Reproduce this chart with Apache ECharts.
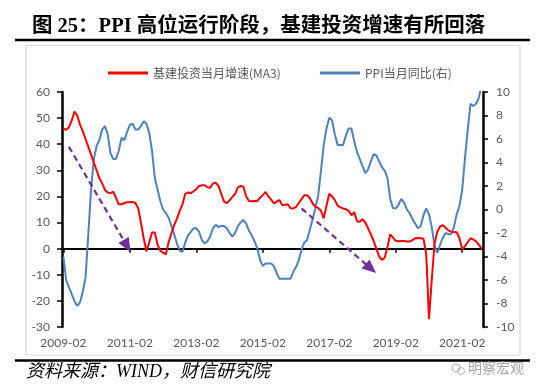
<!DOCTYPE html>
<html>
<head>
<meta charset="utf-8">
<script src="https://cdn.jsdelivr.net/npm/echarts@6/dist/echarts.min.js"></script>
<style>
html,body{margin:0;padding:0;background:#fff;}
#c{width:550px;height:391px;}
</style>
</head>
<body>
<div id="c"></div>
<script>
// ---- data ----
var startYear = 2009, startMonth = 2, monthCount = 152; // 2009-02 .. 2021-09
var categories = [];
for (var k = 0; k < monthCount; k++) {
  var m = startMonth - 1 + k;
  var y = startYear + Math.floor(m / 12);
  var mm = (m % 12) + 1;
  categories.push(y + '-' + (mm < 10 ? '0' + mm : '' + mm));
}
var tickLabels = ['2009-02','2011-02','2013-02','2015-02','2017-02','2019-02','2021-02'];

var infraMA3 = [
  46,45.5,46.5,49,52.5,51,47.5,45,42,39,36,33,
  30,27,25,22.5,21.5,21.3,21.8,19.5,17,17,17.5,17.8,
  17.8,17.9,17.5,15.5,10,4,-1,2.5,6.2,6.2,1.5,-0.8,
  -1.5,-2.2,2.5,5.8,9,11.5,14.5,17,21,21.5,21.3,22,
  22.8,24,24.3,24.3,23.5,23.3,25,25.3,24,21,18,17.5,
  18.5,19.8,21,23.5,24,23.7,20,18.3,18.2,18.3,18.2,19.5,
  20.5,21.7,20,18.8,17.3,18,18.6,16.7,16.8,17,15.5,15.4,
  16,17.5,19,20.5,20.5,19.3,17.3,16,15.6,14.5,11.6,16.5,
  21,20,18.6,16.5,15.8,15.4,15.1,14.5,12.8,14,10.5,10.3,
  11.3,10,7.8,5.5,3,0,-3,-4.3,-3.5,0.5,5.5,4.2,
  3,2.8,2.9,2.9,2.7,2.7,3.3,4.0,4.1,4.0,3.8,-2,
  -27,-12,2,6.5,8.5,9,8,7,6.5,6.4,6.3,4,
  -0.3,1,2.5,4,3.5,2.8,1.5,0
];

var ppiYoY = [
  -4.0,-6.0,-6.6,-7.2,-7.8,-8.2,-7.9,-7.0,-5.8,-2.1,1.7,
  4.3,5.4,5.9,6.8,7.1,6.4,4.8,4.3,4.3,5.0,6.1,5.9,
  6.6,7.2,7.3,6.8,6.8,7.1,7.5,7.3,6.5,5.0,2.7,1.7,
  0.7,0.0,-0.3,-0.7,-1.4,-2.1,-2.9,-3.5,-3.6,-2.8,-2.2,-1.9,
  -1.6,-1.6,-1.9,-2.6,-2.9,-2.7,-2.3,-1.6,-1.3,-1.5,-1.4,-1.4,
  -1.6,-2.0,-2.3,-2.0,-1.4,-1.1,-0.9,-1.2,-1.8,-2.2,-2.7,-3.3,
  -4.3,-4.8,-4.6,-4.6,-4.6,-4.8,-5.4,-5.9,-5.9,-5.9,-5.9,-5.9,
  -5.3,-4.9,-4.3,-3.4,-2.8,-2.6,-1.7,-0.8,0.1,1.2,3.3,5.5,
  6.9,7.8,7.6,6.4,5.5,5.5,5.5,6.3,6.9,6.9,5.8,4.9,
  4.3,3.7,3.1,3.4,4.1,4.7,4.6,4.1,3.6,3.3,2.7,0.9,
  0.1,0.1,0.4,0.9,0.6,0.0,-0.3,-0.8,-1.2,-1.6,-1.4,-0.5,
  0.1,-0.4,-1.5,-3.1,-3.7,-3.0,-2.4,-2.0,-2.1,-2.1,-1.5,-0.4,
  0.3,1.7,4.4,6.8,9.0,8.8,9.0,9.5,10.7
];

var leftTicks = {min: -30, max: 60, interval: 10};
var rightTicks = {min: -10, max: 10, interval: 2};

// trend arrows (category, left-axis value)
var arrow1 = [['2009-04', 39], ['2011-01', 1]];
var arrow2 = [['2016-04', 15.4], ['2018-05', -7.6]];

var seriesNames = ['基建投资当月增速(MA3)', 'PPI当月同比(右)'];

// ---- chart ----
var chart = echarts.init(document.getElementById('c'), null, {renderer: 'canvas'});
var numFont = 'Lato, "Liberation Sans", sans-serif';
var labelColor = '#595959';
function tickFn(i) { return i % 24 === 0; }

var option = {
  animation: false,
  backgroundColor: '#fff',
  title: {
    text: '图 25：PPI 高位运行阶段，基建投资增速有所回落',
    left: 27, top: 11,
    textStyle: {fontSize: 20.5, fontWeight: 'bold', color: '#000',
      fontFamily: '"Liberation Serif", "Noto Sans CJK SC", serif'}
  },
  graphic: [
    {type: 'line', shape: {x1: 15, y1: 40, x2: 530, y2: 40}, style: {stroke: '#000', lineWidth: 2.5}},
    {type: 'rect', shape: {x: 26, y: 45.5, width: 494, height: 309.5}, style: {fill: 'none', stroke: '#d9d9d9', lineWidth: 1.2}},
    {type: 'line', shape: {x1: 15, y1: 360.5, x2: 530, y2: 360.5}, style: {stroke: '#000', lineWidth: 2.5}},
    {type: 'text', left: 26, top: 363, style: {text: '资料来源：WIND，财信研究院', fontSize: 18, fontStyle: 'italic',
      fontFamily: '"Liberation Serif", "Noto Sans CJK SC", serif', fill: '#000'}},
    {type: 'circle', shape: {cx: 456, cy: 368, r: 4}, style: {fill: 'none', stroke: '#b5b5b5', lineWidth: 1}},
    {type: 'circle', shape: {cx: 461, cy: 371, r: 3.5}, style: {fill: 'none', stroke: '#b5b5b5', lineWidth: 1}},
    {type: 'text', left: 468, top: 361, style: {text: '明察宏观', fontSize: 14,
      fontFamily: '"Noto Sans CJK SC", sans-serif', fill: '#a6a6a6'}}
  ],
  legend: [
    {data: [seriesNames[0]], left: 103, top: 62, itemWidth: 40, itemHeight: 3, icon: 'rect',
      textStyle: {fontSize: 12, color: labelColor, fontFamily: '"Noto Sans CJK SC", sans-serif'}},
    {data: [seriesNames[1]], left: 315, top: 62, itemWidth: 40, itemHeight: 3, icon: 'rect',
      textStyle: {fontSize: 12, color: labelColor, fontFamily: '"Noto Sans CJK SC", sans-serif'}}
  ],
  grid: {left: 62, right: 67, top: 92, bottom: 64, containLabel: false},
  xAxis: [
    {
      type: 'category', data: categories, boundaryGap: true, position: 'bottom',
      axisLine: {onZero: true, onZeroAxisIndex: 0, lineStyle: {color: '#000', width: 2}},
      axisTick: {show: true, interval: tickFn, alignWithLabel: true, length: 4, lineStyle: {color: '#000', width: 1.5}},
      axisLabel: {show: false},
      splitLine: {show: false}
    },
    {
      type: 'category', data: categories, boundaryGap: true, position: 'bottom',
      axisLine: {show: false, onZero: false},
      axisTick: {show: false},
      axisLabel: {show: true, interval: tickFn, margin: 10, fontSize: 12, color: labelColor, fontFamily: numFont,
        formatter: function (v) { return tickLabels.indexOf(v) >= 0 ? v : ''; }},
      splitLine: {show: false}
    }
  ],
  yAxis: [
    {
      type: 'value', position: 'left', min: leftTicks.min, max: leftTicks.max, interval: leftTicks.interval,
      axisLine: {show: true, lineStyle: {color: '#000', width: 2.5}},
      axisTick: {show: true, length: 5, lineStyle: {color: '#000', width: 1.5}},
      axisLabel: {margin: 12, fontSize: 12, color: labelColor, fontFamily: numFont},
      splitLine: {show: false}
    },
    {
      type: 'value', position: 'right', min: rightTicks.min, max: rightTicks.max, interval: rightTicks.interval,
      axisLine: {show: true, lineStyle: {color: '#000', width: 2.5}},
      axisTick: {show: true, length: 5, lineStyle: {color: '#000', width: 1.5}},
      axisLabel: {margin: 13, fontSize: 12, color: labelColor, fontFamily: numFont},
      splitLine: {show: false}
    }
  ],
  series: [
    {
      name: seriesNames[0], type: 'line', data: infraMA3, xAxisIndex: 0, yAxisIndex: 0,
      showSymbol: false, symbol: 'none', color: '#ff0000',
      lineStyle: {color: '#ff0000', width: 2}, z: 3,
      markLine: {
        silent: true, symbol: ['none', 'triangle'], symbolSize: [12, 14],
        label: {show: false},
        lineStyle: {color: '#7030A0', type: [6, 4], width: 2.2},
        emphasis: {disabled: true},
        data: [
          [{coord: arrow1[0]}, {coord: arrow1[1]}],
          [{coord: arrow2[0]}, {coord: arrow2[1]}]
        ]
      }
    },
    {
      name: seriesNames[1], type: 'line', data: ppiYoY, xAxisIndex: 0, yAxisIndex: 1,
      showSymbol: false, symbol: 'none', color: '#4F81BD',
      lineStyle: {color: '#4F81BD', width: 2}, z: 2
    }
  ]
};
chart.setOption(option);
</script>
</body>
</html>
